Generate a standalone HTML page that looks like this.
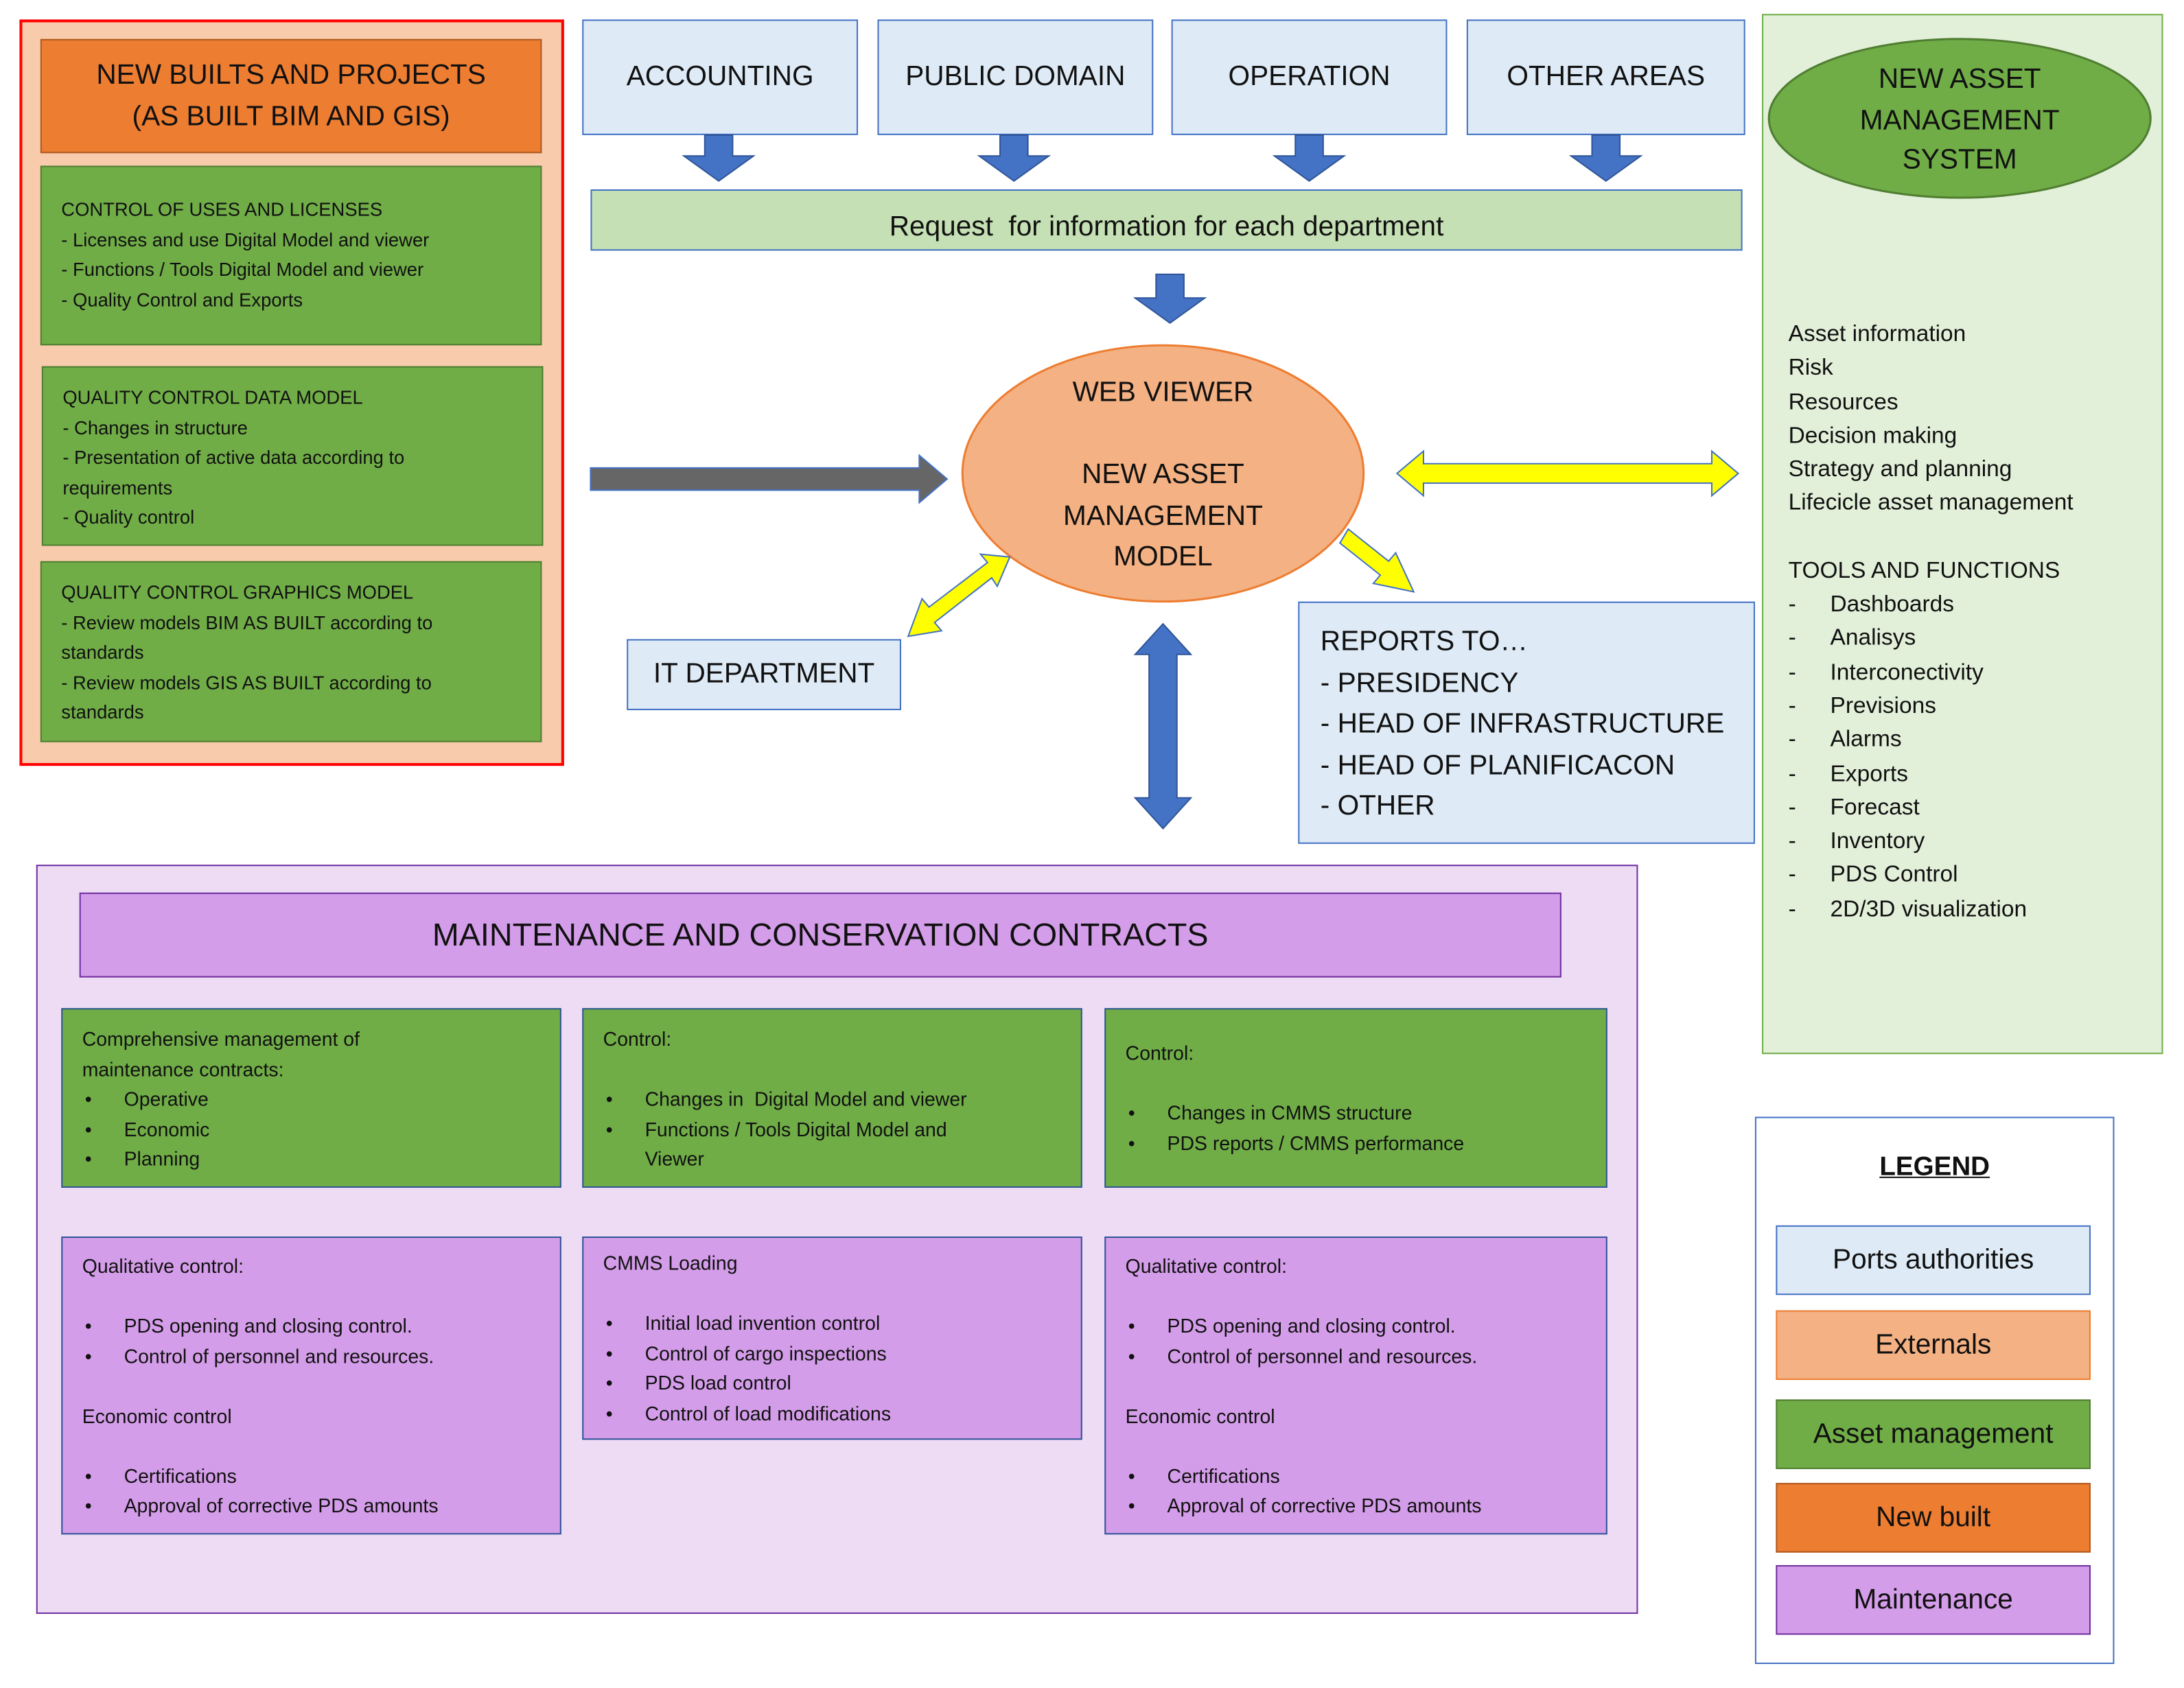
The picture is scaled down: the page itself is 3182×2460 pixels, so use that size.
<!DOCTYPE html>
<html><head><meta charset="utf-8"><style>
html,body{margin:0;padding:0;background:#fff;}
body{width:3182px;height:2459px;overflow:hidden;position:relative;}
#w{position:absolute;left:0;top:0;width:1568px;height:1212px;transform:scale(2.0293);transform-origin:0 0;font-family:"Liberation Sans",sans-serif;color:#111;}
.b{position:absolute;box-sizing:border-box;}
.c{display:flex;align-items:center;justify-content:center;text-align:center;}
.g{background:#70AD47;border:1.5px solid #507E32;font-size:13.5px;line-height:21.5px;padding:20px 14px;white-space:nowrap;}
.gl{background:#70AD47;border:1.5px solid #2F5597;font-size:14px;line-height:21.5px;padding:12px 14px;white-space:nowrap;}
.p{background:#D49DE9;border:1.5px solid #2F5597;font-size:14px;line-height:21.5px;padding:10px 14px;white-space:nowrap;}
.bl{background:#DEEBF7;border:1.5px solid #4472C4;font-size:20px;}
ul{margin:0;padding-left:30px;list-style:none;}
li{position:relative;}
li:before{content:"•";position:absolute;left:-28px;}
.sp{height:21.5px;}
.lg{position:absolute;left:1275px;width:226px;height:50px;box-sizing:border-box;font-size:20px;display:flex;align-items:center;justify-content:center;}
</style></head><body><div id="w">

<div class="b" style="left:14px;top:14px;width:391px;height:536px;background:#F8CBAD;border:2px solid #FF0000;"></div>
<div class="b c" style="left:29px;top:28px;width:360px;height:82px;background:#ED7D31;border:1.5px solid #AE5A21;font-size:20px;line-height:30px;">NEW BUILTS AND PROJECTS<br>(AS BUILT BIM AND GIS)</div>
<div class="b g" style="left:29px;top:119px;width:360px;height:129px;padding-top:20px;">CONTROL OF USES AND LICENSES<br>- Licenses and use Digital Model and viewer<br>- Functions / Tools Digital Model and viewer<br>- Quality Control and Exports</div>
<div class="b g" style="left:30px;top:263px;width:360px;height:129px;padding-top:11px;">QUALITY CONTROL DATA MODEL<br>- Changes in structure<br>- Presentation of active data according to<br>requirements<br>- Quality control</div>
<div class="b g" style="left:29px;top:403px;width:360px;height:130px;padding-top:11px;">QUALITY CONTROL GRAPHICS MODEL<br>- Review models BIM AS BUILT according to<br>standards<br>- Review models GIS AS BUILT according to<br>standards</div>

<div class="b bl c" style="left:418px;top:14px;width:198px;height:83px;">ACCOUNTING</div>
<div class="b bl c" style="left:630px;top:14px;width:198px;height:83px;">PUBLIC DOMAIN</div>
<div class="b bl c" style="left:841px;top:14px;width:198px;height:83px;">OPERATION</div>
<div class="b bl c" style="left:1053px;top:14px;width:200px;height:83px;">OTHER AREAS</div>
<div class="b c" style="left:424px;top:136px;width:827px;height:44px;background:#C5E0B4;border:1.5px solid #4472C4;font-size:20px;padding-top:10px;">Request&nbsp; for information for each department</div>

<div class="b" style="left:1265px;top:10px;width:288px;height:747px;background:#E2F0D9;border:1.5px solid #70AD47;"></div>

<div class="b" style="left:26px;top:621px;width:1150px;height:538px;background:#EEDCF5;border:1.5px solid #7030A0;"></div>
<div class="b c" style="left:57px;top:641px;width:1064px;height:61px;background:#D49DE9;border:1.5px solid #7030A0;font-size:23px;">MAINTENANCE AND CONSERVATION CONTRACTS</div>

<svg class="b" style="left:0;top:0" width="1568" height="1212" viewBox="0 0 1568 1212">
<g fill="#4472C4" stroke="#2F5597" stroke-width="1">
<polygon points="506,97 526,97 526,112 541,112 516,130 491,112 506,112"/>
<polygon points="718,97 738,97 738,112 753,112 728,130 703,112 718,112"/>
<polygon points="930,97 950,97 950,112 965,112 940,130 915,112 930,112"/>
<polygon points="1143,97 1163,97 1163,112 1178,112 1153,130 1128,112 1143,112"/>
<polygon points="830,197 850,197 850,214 865,214 840,232 815,214 830,214"/>
<polygon points="835,448 855,470 845,470 845,573 855,573 835,595 815,573 825,573 825,470 815,470"/>
</g>
<ellipse cx="835" cy="340" rx="144" ry="92" fill="#F4B183" stroke="#ED7D31" stroke-width="1.5"/>
<ellipse cx="1407" cy="85" rx="137" ry="57" fill="#70AD47" stroke="#507E32" stroke-width="1.5"/>
<polygon points="424,336 660,336 660,327 680,344 660,361 660,352 424,352" fill="#666" stroke="#4472C4" stroke-width="1"/>
<g fill="#FFFF00" stroke="#4472C4" stroke-width="1">
<polygon points="1003,340 1022,324 1022,333 1229,333 1229,324 1248,340 1229,356 1229,347 1022,347 1022,356"/>
<polygon points="968,380 997,403 1002,397 1015,425 986,419 991,413 962,390"/>
<polygon points="652,457 662,430 667,436 709,404 704,398 725,400 716,421 712,415 671,447 676,453"/>
</g>
<g font-size="20" text-anchor="middle" fill="#111">
<text x="835" y="288">WEB VIEWER</text>
<text x="835" y="347">NEW ASSET</text>
<text x="835" y="377">MANAGEMENT</text>
<text x="835" y="406">MODEL</text>
<text x="1407" y="63">NEW ASSET</text>
<text x="1407" y="93">MANAGEMENT</text>
<text x="1407" y="121">SYSTEM</text>
</g>
</svg>

<div class="b c" style="left:450px;top:459px;width:197px;height:51px;background:#DEEBF7;border:1.5px solid #4472C4;font-size:20px;">IT DEPARTMENT</div>
<div class="b" style="left:932px;top:432px;width:328px;height:174px;background:#DEEBF7;border:1.5px solid #4472C4;font-size:20px;line-height:29.5px;padding:14px 0 0 15px;">REPORTS TO…<br>- PRESIDENCY<br>- HEAD OF INFRASTRUCTURE<br>- HEAD OF PLANIFICACON<br>- OTHER</div>

<div class="b" style="left:1284px;top:228px;font-size:16.5px;line-height:24.3px;white-space:nowrap;">Asset information<br>Risk<br>Resources<br>Decision making<br>Strategy and planning<br>Lifecicle asset management<br><div style="height:24px"></div>TOOLS AND FUNCTIONS
<div style="display:grid;grid-template-columns:30px auto;">
<span>-</span><span>Dashboards</span><span>-</span><span>Analisys</span><span>-</span><span>Interconectivity</span><span>-</span><span>Previsions</span><span>-</span><span>Alarms</span><span>-</span><span>Exports</span><span>-</span><span>Forecast</span><span>-</span><span>Inventory</span><span>-</span><span>PDS Control</span><span>-</span><span>2D/3D visualization</span></div></div>

<div class="b gl" style="left:44px;top:724px;width:359px;height:129px;padding-top:11px;">Comprehensive management of<br>maintenance contracts:<ul><li>Operative</li><li>Economic</li><li>Planning</li></ul></div>
<div class="b gl" style="left:418px;top:724px;width:359px;height:129px;padding-top:11px;">Control:<div class="sp"></div><ul><li>Changes in&nbsp; Digital Model and viewer</li><li>Functions / Tools Digital Model and<br>Viewer</li></ul></div>
<div class="b gl" style="left:793px;top:724px;width:361px;height:129px;padding-top:21px;">Control:<div class="sp"></div><ul><li>Changes in CMMS structure</li><li>PDS reports / CMMS performance</li></ul></div>

<div class="b p" style="left:44px;top:888px;width:359px;height:214px;">Qualitative control:<div class="sp"></div><ul><li>PDS opening and closing control.</li><li>Control of personnel and resources.</li></ul><div class="sp"></div>Economic control<div class="sp"></div><ul><li>Certifications</li><li>Approval of corrective PDS amounts</li></ul></div>
<div class="b p" style="left:418px;top:888px;width:359px;height:146px;padding-top:8px;">CMMS Loading<div class="sp"></div><ul><li>Initial load invention control</li><li>Control of cargo inspections</li><li>PDS load control</li><li>Control of load modifications</li></ul></div>
<div class="b p" style="left:793px;top:888px;width:361px;height:214px;">Qualitative control:<div class="sp"></div><ul><li>PDS opening and closing control.</li><li>Control of personnel and resources.</li></ul><div class="sp"></div>Economic control<div class="sp"></div><ul><li>Certifications</li><li>Approval of corrective PDS amounts</li></ul></div>

<div class="b" style="left:1260px;top:802px;width:258px;height:393px;background:#fff;border:1.5px solid #4472C4;"></div>
<div class="b" style="left:1260px;top:828px;width:258px;text-align:center;font-size:19px;font-weight:bold;text-decoration:underline;">LEGEND</div>
<div class="lg" style="top:880px;background:#DEEBF7;border:1.5px solid #4472C4;">Ports authorities</div>
<div class="lg" style="top:941px;background:#F4B183;border:1.5px solid #ED7D31;">Externals</div>
<div class="lg" style="top:1005px;background:#70AD47;border:1.5px solid #507E32;">Asset management</div>
<div class="lg" style="top:1065px;background:#ED7D31;border:1.5px solid #AE5A21;">New built</div>
<div class="lg" style="top:1124px;background:#D49DE9;border:1.5px solid #7030A0;">Maintenance</div>
</div></body></html>
